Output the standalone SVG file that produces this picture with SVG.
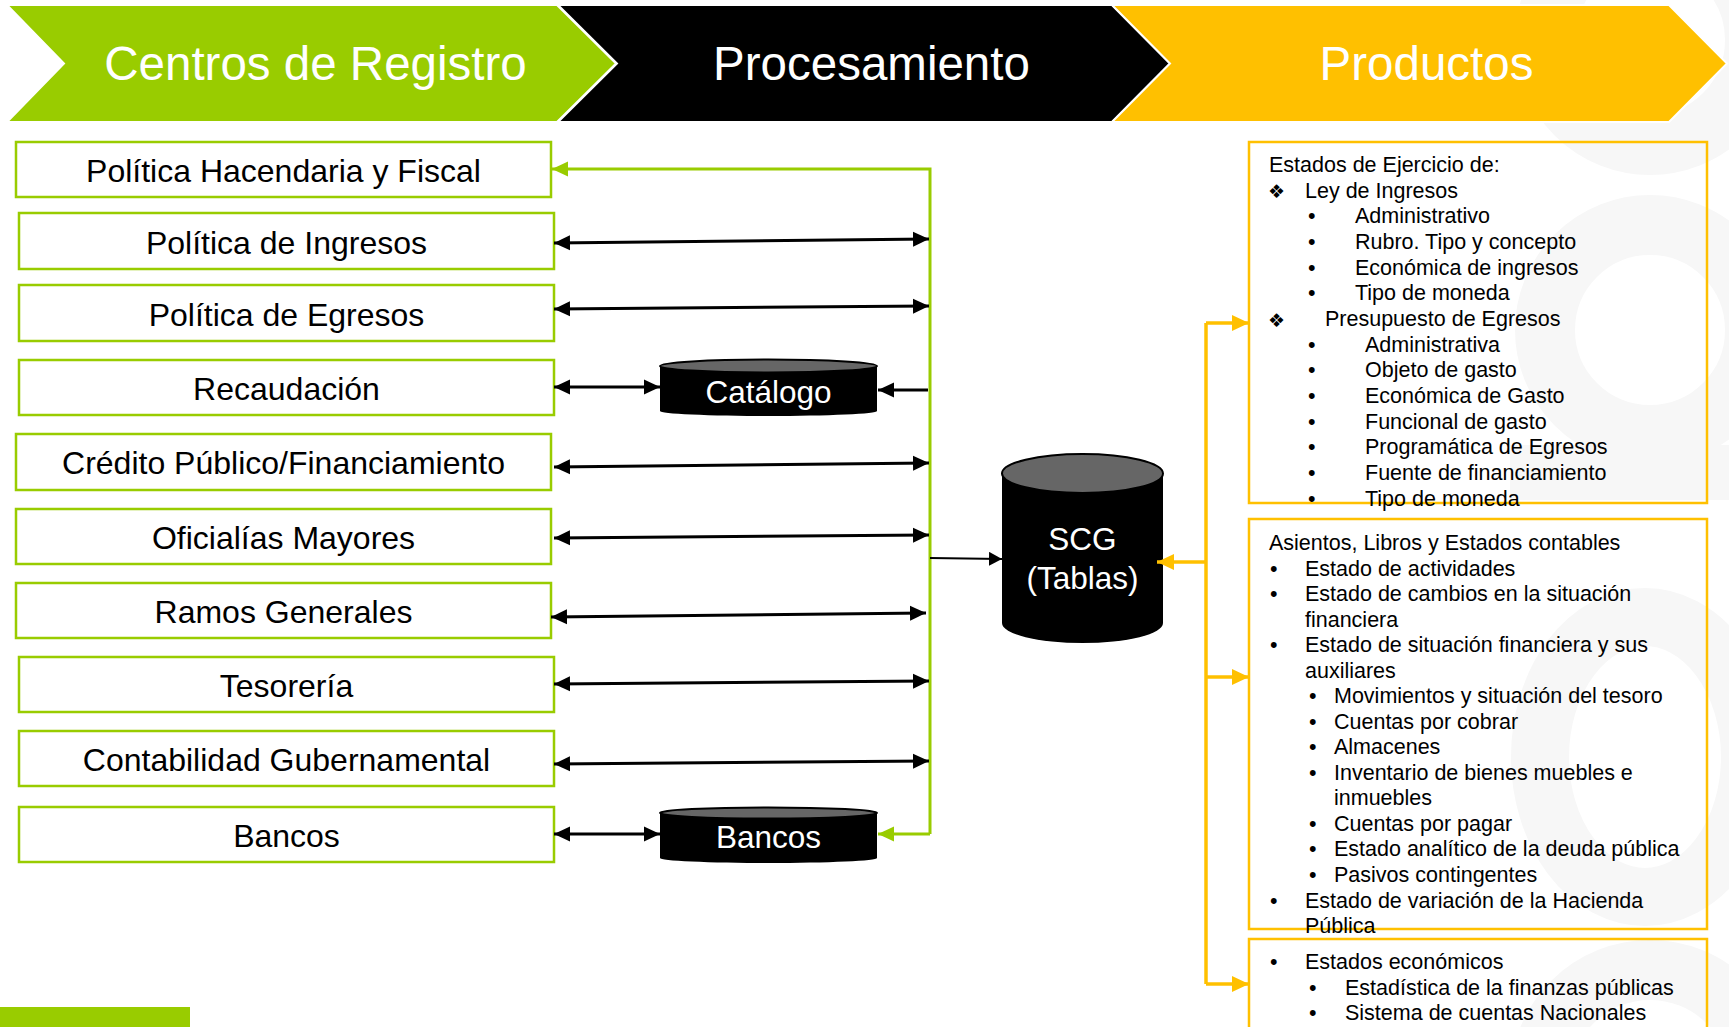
<svg xmlns="http://www.w3.org/2000/svg" width="1729" height="1027" viewBox="0 0 1729 1027">
  <style>
    .hdr { font-family: "Liberation Sans", Arial, sans-serif; font-size: 47.5px; fill: #ffffff; text-anchor: middle; }
    .box { fill: #ffffff; stroke: #99CC00; stroke-width: 2.5; }
    .lbl { font-family: "Liberation Sans", Arial, sans-serif; font-size: 32px; fill: #000000; text-anchor: middle; }
    .cyl { font-family: "Liberation Sans", Arial, sans-serif; font-size: 31.5px; fill: #ffffff; text-anchor: middle; }
    .ybox { fill: none; stroke: #FFC000; stroke-width: 2.5; }
    .t { font-family: "Liberation Sans", Arial, sans-serif; font-size: 21.5px; fill: #000000; }
    .dia { font-family: "DejaVu Sans", sans-serif; font-size: 19px; fill: #000000; }
    .blk { stroke: #000000; stroke-width: 3; fill: none; }
    .grn { stroke: #99CC00; stroke-width: 3; fill: none; }
    .yel { stroke: #FFC000; stroke-width: 3.5; fill: none; }
    .wm { fill: none; stroke: #f7f7f7; }
  </style>
  <defs>
    <marker id="ab" markerUnits="userSpaceOnUse" markerWidth="16" markerHeight="16" refX="16" refY="8" orient="auto-start-reverse">
      <path d="M0,0.5 L16,8 L0,15.5 z" fill="#000000"/>
    </marker>
    <marker id="abs" markerUnits="userSpaceOnUse" markerWidth="13" markerHeight="14" refX="13" refY="7" orient="auto">
      <path d="M0,0 L13,7 L0,14 z" fill="#000000"/>
    </marker>
    <marker id="ag" markerUnits="userSpaceOnUse" markerWidth="16" markerHeight="16" refX="16" refY="8" orient="auto">
      <path d="M0,0.5 L16,8 L0,15.5 z" fill="#99CC00"/>
    </marker>
    <marker id="ay" markerUnits="userSpaceOnUse" markerWidth="17" markerHeight="17" refX="17" refY="8.5" orient="auto">
      <path d="M0,0.5 L17,8.5 L0,16.5 z" fill="#FFC000"/>
    </marker>
  </defs>

  <rect x="0" y="0" width="1729" height="1027" fill="#ffffff"/>

  <!-- faint watermark -->
  <g id="watermark">
    <circle class="wm" cx="1650" cy="40" r="105" stroke-width="60"/>
    <circle class="wm" cx="1650" cy="330" r="105" stroke-width="60"/>
    <rect x="1510" y="445" width="219" height="55" fill="#f7f7f7"/>
    <ellipse class="wm" cx="1645" cy="757" rx="105" ry="140" stroke-width="58"/>
    <circle class="wm" cx="1650" cy="1080" r="110" stroke-width="60"/>
  </g>

  <!-- header chevrons -->
  <g id="header-registro">
    <polygon points="7,5 557,5 616,63.5 557,122 7,122 64,63.5" fill="#99CC00" stroke="#ffffff" stroke-width="2"/>
    <text class="hdr" x="315.5" y="79.5">Centros de Registro</text>
  </g>
  <g id="header-procesamiento">
    <polygon points="558,5 1112,5 1170,63.5 1112,122 558,122 617,63.5" fill="#000000" stroke="#ffffff" stroke-width="2"/>
    <text class="hdr" x="871.5" y="79.5">Procesamiento</text>
  </g>
  <g id="header-productos">
    <polygon points="1112,5 1669,5 1727,63.5 1669,122 1112,122 1170,63.5" fill="#FFC000" stroke="#ffffff" stroke-width="2"/>
    <text class="hdr" x="1426.5" y="79.5">Productos</text>
  </g>

  <!-- left nodes -->
  <g id="n-hacendaria"><rect class="box" x="16" y="142" width="535" height="55"/><text class="lbl" x="283.5" y="182">Política Hacendaria y Fiscal</text></g>
  <g id="n-ingresos"><rect class="box" x="19" y="213" width="535" height="56"/><text class="lbl" x="286.5" y="254">Política de Ingresos</text></g>
  <g id="n-egresos"><rect class="box" x="19" y="285" width="535" height="56"/><text class="lbl" x="286.5" y="326">Política de Egresos</text></g>
  <g id="n-recaudacion"><rect class="box" x="19" y="360" width="535" height="55"/><text class="lbl" x="286.5" y="400">Recaudación</text></g>
  <g id="n-credito"><rect class="box" x="16" y="434" width="535" height="56"/><text class="lbl" x="283.5" y="474">Crédito Público/Financiamiento</text></g>
  <g id="n-oficialias"><rect class="box" x="16" y="509" width="535" height="55"/><text class="lbl" x="283.5" y="549">Oficialías Mayores</text></g>
  <g id="n-ramos"><rect class="box" x="16" y="583" width="535" height="55"/><text class="lbl" x="283.5" y="623">Ramos Generales</text></g>
  <g id="n-tesoreria"><rect class="box" x="19" y="657" width="535" height="55"/><text class="lbl" x="286.5" y="697">Tesorería</text></g>
  <g id="n-contabilidad"><rect class="box" x="19" y="731" width="535" height="55"/><text class="lbl" x="286.5" y="771">Contabilidad Gubernamental</text></g>
  <g id="n-bancos"><rect class="box" x="19" y="807" width="535" height="55"/><text class="lbl" x="286.5" y="847">Bancos</text></g>

  <!-- cylinders -->
  <g id="n-catalogo">
    <path d="M660,366 L660,411 A108.5,5 0 0 0 877,411 L877,366 z" fill="#000000"/>
    <ellipse cx="768.5" cy="366" rx="108.5" ry="6.5" fill="#666666" stroke="#000000" stroke-width="2"/>
    <text class="cyl" x="768.5" y="403">Catálogo</text>
  </g>
  <g id="n-bancos-db">
    <path d="M660,813 L660,858 A108.5,5 0 0 0 877,858 L877,813 z" fill="#000000"/>
    <ellipse cx="768.5" cy="813" rx="108.5" ry="5.5" fill="#666666" stroke="#000000" stroke-width="2"/>
    <text class="cyl" x="768.5" y="848">Bancos</text>
  </g>
  <g id="n-scg">
    <path d="M1002,473.5 L1002,623 A80.5,20 0 0 0 1163,623 L1163,473.5 z" fill="#000000"/>
    <ellipse cx="1082.5" cy="473.5" rx="80.5" ry="19.5" fill="#666666" stroke="#000000" stroke-width="2"/>
    <text class="cyl" x="1082.5" y="550" font-size="31">SCG</text>
    <text class="cyl" x="1082.5" y="589" font-size="31">(Tablas)</text>
  </g>

  <!-- right product boxes -->
  <g id="n-ejercicio">
    <rect class="ybox" x="1249" y="142" width="458" height="361"/>
    <text class="t" x="1269" y="172">Estados de Ejercicio de:</text>
    <text class="dia" x="1268" y="198">❖</text><text class="t" x="1305" y="197.6">Ley de Ingresos</text>
    <text class="t" x="1308" y="223.3">•</text><text class="t" x="1355" y="223.3">Administrativo</text>
    <text class="t" x="1308" y="249">•</text><text class="t" x="1355" y="249">Rubro. Tipo y concepto</text>
    <text class="t" x="1308" y="274.6">•</text><text class="t" x="1355" y="274.6">Económica de ingresos</text>
    <text class="t" x="1308" y="300.3">•</text><text class="t" x="1355" y="300.3">Tipo de moneda</text>
    <text class="dia" x="1268" y="326.5">❖</text><text class="t" x="1325" y="326">Presupuesto de Egresos</text>
    <text class="t" x="1308" y="351.6">•</text><text class="t" x="1365" y="351.6">Administrativa</text>
    <text class="t" x="1308" y="377.3">•</text><text class="t" x="1365" y="377.3">Objeto de gasto</text>
    <text class="t" x="1308" y="403">•</text><text class="t" x="1365" y="403">Económica de Gasto</text>
    <text class="t" x="1308" y="428.6">•</text><text class="t" x="1365" y="428.6">Funcional de gasto</text>
    <text class="t" x="1308" y="454.3">•</text><text class="t" x="1365" y="454.3">Programática de Egresos</text>
    <text class="t" x="1308" y="480">•</text><text class="t" x="1365" y="480">Fuente de financiamiento</text>
    <text class="t" x="1308" y="505.6">•</text><text class="t" x="1365" y="505.6">Tipo de moneda</text>
  </g>
  <g id="n-contables">
    <rect class="ybox" x="1249" y="519" width="458" height="410"/>
    <text class="t" x="1269" y="550">Asientos, Libros y Estados contables</text>
    <text class="t" x="1270" y="575.5">•</text><text class="t" x="1305" y="575.5">Estado de actividades</text>
    <text class="t" x="1270" y="601">•</text><text class="t" x="1305" y="601">Estado de cambios en la situación</text>
    <text class="t" x="1305" y="626.6">financiera</text>
    <text class="t" x="1270" y="652">•</text><text class="t" x="1305" y="652">Estado de situación financiera y sus</text>
    <text class="t" x="1305" y="677.6">auxiliares</text>
    <text class="t" x="1309" y="703">•</text><text class="t" x="1334" y="703">Movimientos y situación del tesoro</text>
    <text class="t" x="1309" y="728.7">•</text><text class="t" x="1334" y="728.7">Cuentas por cobrar</text>
    <text class="t" x="1309" y="754">•</text><text class="t" x="1334" y="754">Almacenes</text>
    <text class="t" x="1309" y="779.8">•</text><text class="t" x="1334" y="779.8">Inventario de bienes muebles e</text>
    <text class="t" x="1334" y="805">inmuebles</text>
    <text class="t" x="1309" y="831">•</text><text class="t" x="1334" y="831">Cuentas por pagar</text>
    <text class="t" x="1309" y="856.4">•</text><text class="t" x="1334" y="856.4">Estado analítico de la deuda pública</text>
    <text class="t" x="1309" y="882">•</text><text class="t" x="1334" y="882">Pasivos contingentes</text>
    <text class="t" x="1270" y="907.5">•</text><text class="t" x="1305" y="907.5">Estado de variación de la Hacienda</text>
    <text class="t" x="1305" y="933">Pública</text>
  </g>
  <g id="n-economicos">
    <rect class="ybox" x="1249" y="939" width="458" height="110"/>
    <text class="t" x="1270" y="969">•</text><text class="t" x="1305" y="969">Estados económicos</text>
    <text class="t" x="1309" y="995">•</text><text class="t" x="1345" y="995">Estadística de la finanzas públicas</text>
    <text class="t" x="1309" y="1020">•</text><text class="t" x="1345" y="1020">Sistema de cuentas Nacionales</text>
  </g>

  <!-- connectors -->
  <g id="connectors">
    <polyline class="grn" points="930,834 930,169 552,169" marker-end="url(#ag)"/>
    <polyline class="grn" points="930,834 878,834" marker-end="url(#ag)"/>
    <line class="blk" x1="554" y1="243" x2="929" y2="239" marker-start="url(#ab)" marker-end="url(#ab)"/>
    <line class="blk" x1="554" y1="309" x2="929" y2="306" marker-start="url(#ab)" marker-end="url(#ab)"/>
    <line class="blk" x1="554" y1="387" x2="660" y2="387" marker-start="url(#ab)" marker-end="url(#ab)"/>
    <line class="blk" x1="928" y1="390" x2="878" y2="390" marker-end="url(#ab)"/>
    <line class="blk" x1="554" y1="467" x2="929" y2="463" marker-start="url(#ab)" marker-end="url(#ab)"/>
    <line class="blk" x1="554" y1="538" x2="929" y2="535" marker-start="url(#ab)" marker-end="url(#ab)"/>
    <line class="blk" x1="551" y1="617" x2="926" y2="613" marker-start="url(#ab)" marker-end="url(#ab)"/>
    <line class="blk" x1="554" y1="684" x2="929" y2="681" marker-start="url(#ab)" marker-end="url(#ab)"/>
    <line class="blk" x1="554" y1="764" x2="929" y2="761" marker-start="url(#ab)" marker-end="url(#ab)"/>
    <line class="blk" x1="554" y1="834" x2="660" y2="834" marker-start="url(#ab)" marker-end="url(#ab)"/>
    <line x1="930" y1="558" x2="1002" y2="559" stroke="#000000" stroke-width="2" marker-end="url(#abs)"/>
    <polyline class="yel" points="1206,323 1206,984"/>
    <line class="yel" x1="1206" y1="562" x2="1157" y2="562" marker-end="url(#ay)"/>
    <line class="yel" x1="1206" y1="323" x2="1249" y2="323" marker-end="url(#ay)"/>
    <line class="yel" x1="1206" y1="677" x2="1249" y2="677" marker-end="url(#ay)"/>
    <line class="yel" x1="1206" y1="984" x2="1249" y2="984" marker-end="url(#ay)"/>
  </g>

  <rect x="0" y="1007" width="190" height="20" fill="#99CC00"/>
</svg>
